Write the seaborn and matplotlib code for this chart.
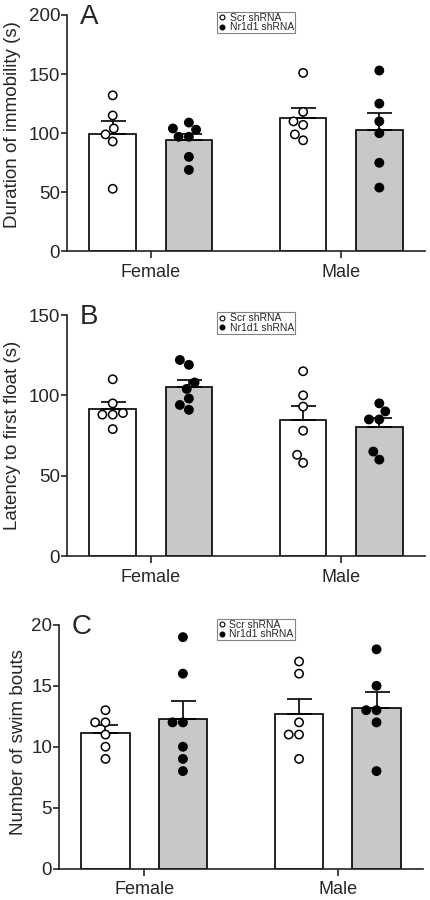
import pandas as pd
import matplotlib
matplotlib.use("Agg")
import matplotlib.pyplot as plt
import seaborn as sns
from matplotlib.lines import Line2D

sexes = ["Female", "Male"]
groups = ["Scr shRNA", "Nr1d1 shRNA"]

# A: duration of immobility (s)
immob_f_scr = [132, 115, 104, 99, 93, 53]
immob_f_nr = [109, 104, 103, 97, 97, 80, 69]
immob_m_scr = [151, 118, 110, 107, 99, 94]
immob_m_nr = [153, 125, 110, 100, 75, 54]

# B: latency to first float (s)
float_f_scr = [110, 95, 89, 88, 88, 79]
float_f_nr = [122, 119, 108, 104, 98, 94, 91]
float_m_scr = [115, 100, 93, 78, 63, 58]
float_m_nr = [95, 90, 85, 85, 65, 60]

# C: number of swim bouts
swim_f_scr = [13, 12, 12, 11, 10, 9]
swim_f_nr = [19, 16, 12, 12, 10, 9, 8]
swim_m_scr = [17, 16, 12, 11, 11, 9]
swim_m_nr = [18, 15, 13, 13, 12, 8]


def long_df(f_scr, f_nr, m_scr, m_nr):
    rows = []
    for sex, grp, vals in [("Female", groups[0], f_scr), ("Female", groups[1], f_nr),
                           ("Male", groups[0], m_scr), ("Male", groups[1], m_nr)]:
        for v in vals:
            rows.append((sex, grp, v))
    return pd.DataFrame(rows, columns=["sex", "group", "value"])


sns.set_style("ticks")
plt.rcParams['font.family'] = ['Liberation Sans', 'DejaVu Sans']

panels = [
    # letter, ylabel, data, ymax, step, axes rect, gap, ylabel coords, legend anchor
    ("A", "Duration of immobility (s)", long_df(immob_f_scr, immob_f_nr, immob_m_scr, immob_m_nr),
     200, 50, [0.1555, 0.7206, 0.8306, 0.2628], 0.39, (-0.128, 0.535), (0.419, 1.013)),
    ("B", "Latency to first float (s)", long_df(float_f_scr, float_f_nr, float_m_scr, float_m_nr),
     150, 50, [0.1555, 0.3822, 0.8306, 0.2678], 0.39, (-0.128, 0.50), (0.419, 1.012)),
    ("C", "Number of swim bouts", long_df(swim_f_scr, swim_f_nr, swim_m_scr, swim_m_nr),
     20, 5, [0.1369, 0.035, 0.8445, 0.2706], 0.37, (-0.088, 0.52), (0.434, 1.025)),
]

fig = plt.figure(figsize=(4.31, 9.0), dpi=100)

for letter, ylab, df, ymax, step, rect, gap, lab_xy, leg_xy in panels:
    ax = fig.add_axes(rect)
    sns.barplot(data=df, x="sex", y="value", hue="group", order=sexes, hue_order=groups,
                palette=["white", "#c8c8c8"], errorbar=None, width=0.8, gap=gap,
                edgecolor="black", linewidth=1.2, legend=False, ax=ax, zorder=1)

    # upward-only SEM error bars
    stats = df.groupby(["group", "sex"])["value"].agg(["mean", "sem"])
    for grp, cont in zip(groups, ax.containers):
        for sex, bar in zip(sexes, cont.patches):
            m, s = stats.loc[(grp, sex)]
            x = bar.get_x() + bar.get_width() / 2
            ax.errorbar(x, m, yerr=[[0], [s]], color="black", capsize=9,
                        elinewidth=1.2, capthick=1.2, zorder=3)

    sns.swarmplot(data=df, x="sex", y="value", hue="group", order=sexes, hue_order=groups,
                  dodge=True, palette=["white", "black"], edgecolor="black", linewidth=1.1,
                  size=6, legend=False, ax=ax, zorder=4)

    ax.set_xlim(-0.44, 1.44)
    ax.set_ylim(0, ymax)
    ax.set_yticks(range(0, ymax + 1, step))
    ax.set_xlabel("")
    ax.set_ylabel(ylab, fontsize=13.5)
    ax.yaxis.set_label_coords(*lab_xy)
    sns.despine(ax=ax)
    for sp in ["left", "bottom"]:
        ax.spines[sp].set_linewidth(1.2)
        ax.spines[sp].set_color("#222222")
    ax.tick_params(axis="y", direction="out", length=4, width=1.2, labelsize=13.5, pad=1)
    ax.tick_params(axis="x", direction="out", length=5, width=1.2, labelsize=13, pad=4)

    ax.text(0.036, 1.045, letter, transform=ax.transAxes, fontsize=20, va="top", ha="left")

    handles = [Line2D([], [], marker="o", ls="", mfc=c, mec="black", mew=0.8, ms=3.5)
               for c in ["white", "black"]]
    leg = ax.legend(handles, groups, loc="upper left", bbox_to_anchor=leg_xy, fontsize=7.5,
                    frameon=True, fancybox=False, edgecolor="#666666", borderpad=0.1,
                    handlelength=0.7, handletextpad=0.4, labelspacing=-0.05, borderaxespad=0)
    leg.get_frame().set_linewidth(0.8)

fig.savefig("out.png", dpi=100)
